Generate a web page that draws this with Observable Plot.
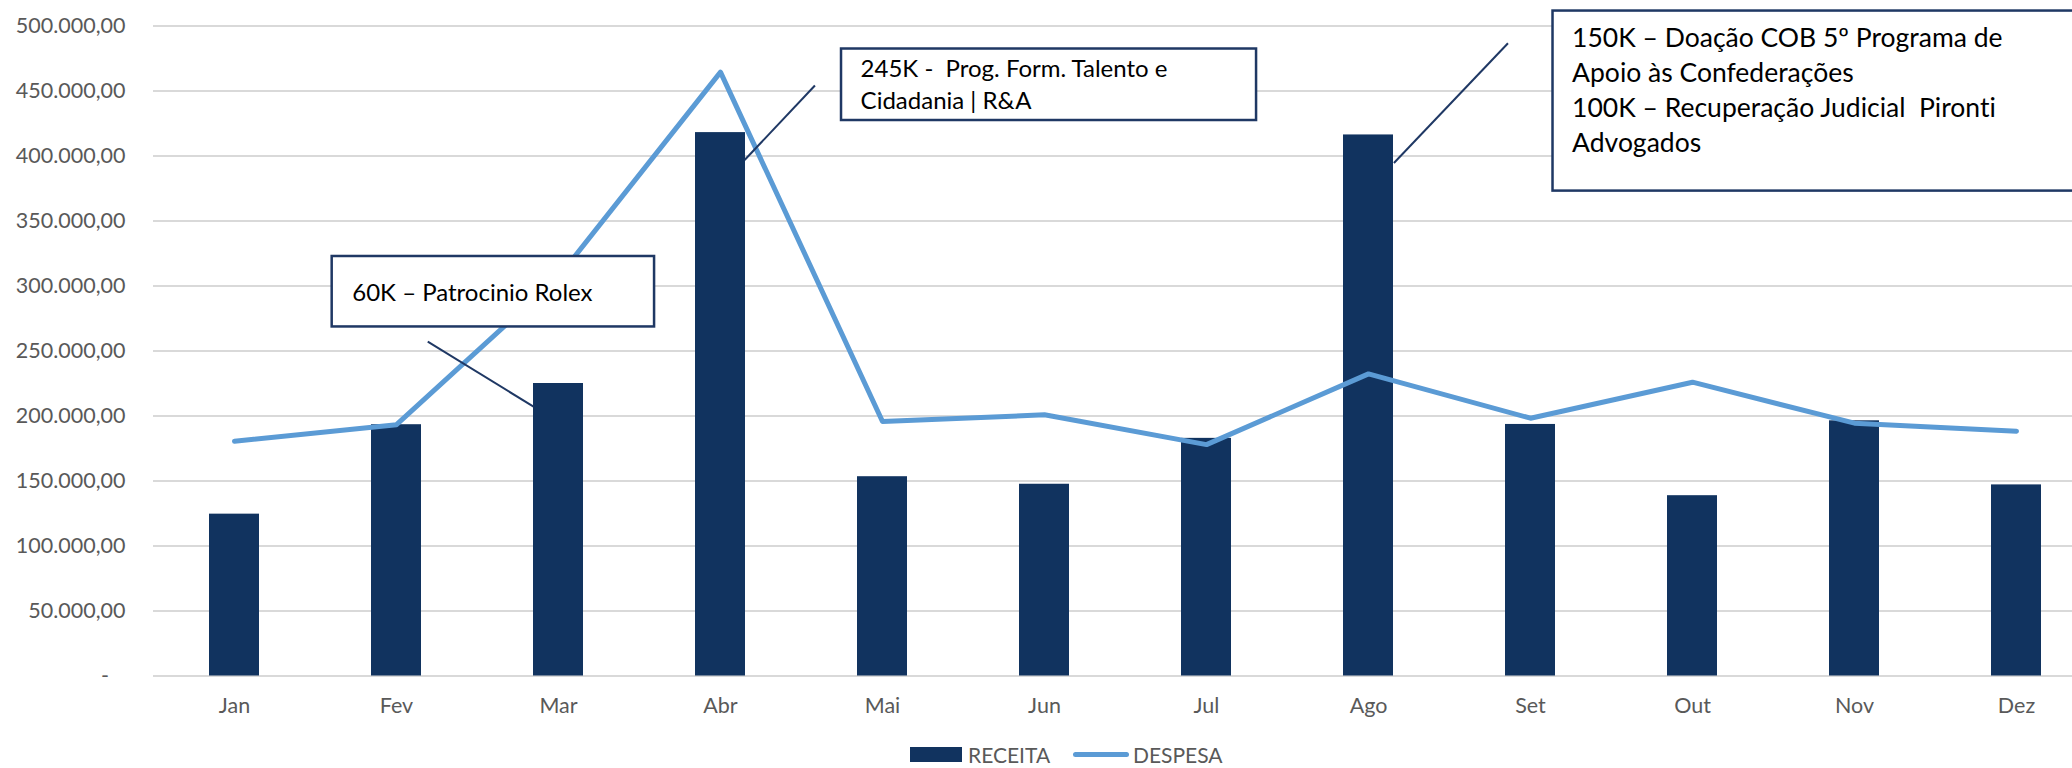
<!DOCTYPE html>
<html><head><meta charset="utf-8">
<script src="https://cdn.jsdelivr.net/npm/d3@7"></script>
<script src="https://cdn.jsdelivr.net/npm/@observablehq/plot@0.6"></script>
<style>
html,body{margin:0;padding:0;background:#fff;overflow:hidden;width:2072px;height:768px;}
#chart svg{display:block;}
#chart text{font-variant-ligatures:none;}
#legend{position:relative;height:28px;font-family:Lato,sans-serif;font-size:21px;color:#595959;}
#legend .item{position:absolute;top:0;display:flex;align-items:center;height:28px;}
</style></head><body>
<div id="chart"></div>
<div id="legend"></div>
<script>
// ---- data ----
const months = ["Jan","Fev","Mar","Abr","Mai","Jun","Jul","Ago","Set","Out","Nov","Dez"];
const receita = [124500,193300,225000,418000,153300,147500,182800,416200,193500,138700,196300,147000];
const despesa = [180600,193300,307000,464500,195800,200900,178000,232400,198300,226000,194500,188300];
const yTicks = [0,50000,100000,150000,200000,250000,300000,350000,400000,450000,500000];
const seriesNames = ["RECEITA","DESPESA"];
const noteTexts = [
  ["60K – Patrocinio Rolex"],
  ["245K -  Prog. Form. Talento e","Cidadania | R&A"],
  ["150K – Doação COB 5º Programa de","Apoio às Confederações","100K – Recuperação Judicial  Pironti","Advogados"]
];

// ---- layout / style (annotation anchors in data coordinates: month index & value) ----
const noteLayout = [
  {box:[0.603,2.593,322700,268500], textX:0.73, line1:45, lineGap:0, size:24, leader:[[1.196,256800],[1.849,206800]]},
  {box:[3.747,6.309,482300,427300], textX:3.868, line1:28.5, lineGap:31.5, size:24, leader:[[3.586,453800],[3.152,396500]]},
  {box:[8.139,12.5,511500,373000], textX:8.26, line1:36.5, lineGap:35, size:26.5, leader:[[7.864,486300],[7.16,394200]]}
];
const barColor = "#11335F";
const lineColor = "#5B9BD5";
const noteColor = "#1F3864";

const table = months.map((m,i)=>({month:m, receita:receita[i], despesa:despesa[i]}));
const ptBR = d3.formatLocale({decimal:",", thousands:".", grouping:[3], currency:["R$",""]});
const fmt = ptBR.format(",.2f");

const chart = Plot.plot({
  width: 2072,
  height: 740,
  marginTop: 25.5,
  marginBottom: 64.5,
  marginLeft: 153,
  marginRight: -25,
  style: {fontFamily: "Lato, sans-serif", fontSize: "21.5px", color: "#595959", background: "#fff"},
  x: {domain: months, paddingInner: 0.69, paddingOuter: 0.345, label: null},
  y: {domain: [0, 500000], label: null},
  marks: [
    Plot.gridY(yTicks, {stroke: "#d9d9d9", strokeOpacity: 1, strokeWidth: 2}),
    Plot.axisY({ticks: yTicks, tickSize: 0, tickPadding: 28, label: null,
      tickFormat: d => d === 0 ? "-   " : fmt(d), fill: "#595959"}),
    Plot.axisX({tickSize: 0, tickPadding: 22, label: null, fill: "#595959"}),
    Plot.barY(table, {x: "month", y: "receita", fill: barColor}),
    Plot.line(table, {x: "month", y: "despesa", stroke: lineColor, strokeWidth: 5,
      strokeLinejoin: "round", strokeLinecap: "round"})
  ]
});
document.getElementById("chart").appendChild(chart);

// ---- annotations drawn through the chart's own scales ----
const xs = chart.scale("x"), ys = chart.scale("y");
const x0 = xs.apply(months[0]) + xs.bandwidth / 2;
const step = xs.step;
const X = idx => x0 + idx * step;
const Y = v => ys.apply(v);
const svg = d3.select(chart);
const g = svg.append("g").attr("class","notes").attr("text-anchor","start");
noteLayout.forEach((n, k) => {
  g.append("line")
    .attr("x1", X(n.leader[0][0])).attr("y1", Y(n.leader[0][1]))
    .attr("x2", X(n.leader[1][0])).attr("y2", Y(n.leader[1][1]))
    .attr("stroke", noteColor).attr("stroke-width", 2);
});
noteLayout.forEach((n, k) => {
  const [a, b, top, bot] = n.box;
  g.append("rect")
    .attr("x", X(a)).attr("y", Y(top))
    .attr("width", X(b) - X(a)).attr("height", Y(bot) - Y(top))
    .attr("fill", "#fff").attr("stroke", noteColor).attr("stroke-width", 2.5);
  const t = g.append("text")
    .attr("x", X(n.textX)).attr("y", Y(top))
    .attr("text-anchor", "start")
    .attr("fill", "#000").attr("font-size", n.size + "px")
    .attr("font-family", "Lato, sans-serif").style("white-space", "pre");
  noteTexts[k].forEach((s, i) => {
    t.append("tspan").attr("x", X(n.textX)).attr("dy", i === 0 ? n.line1 : n.lineGap).text(s);
  });
});

// ---- legend (HTML below the SVG) ----
const leg = d3.select("#legend");
const i1 = leg.append("div").attr("class","item").style("left","910px");
i1.append("div").style("width","52px").style("height","15px").style("background",barColor).style("margin-right","6px");
i1.append("span").text(seriesNames[0]);
const i2 = leg.append("div").attr("class","item").style("left","1073px");
i2.append("div").style("width","56px").style("height","5px").style("border-radius","3px").style("background",lineColor).style("margin-right","4px");
i2.append("span").text(seriesNames[1]);
</script>
</body></html>
